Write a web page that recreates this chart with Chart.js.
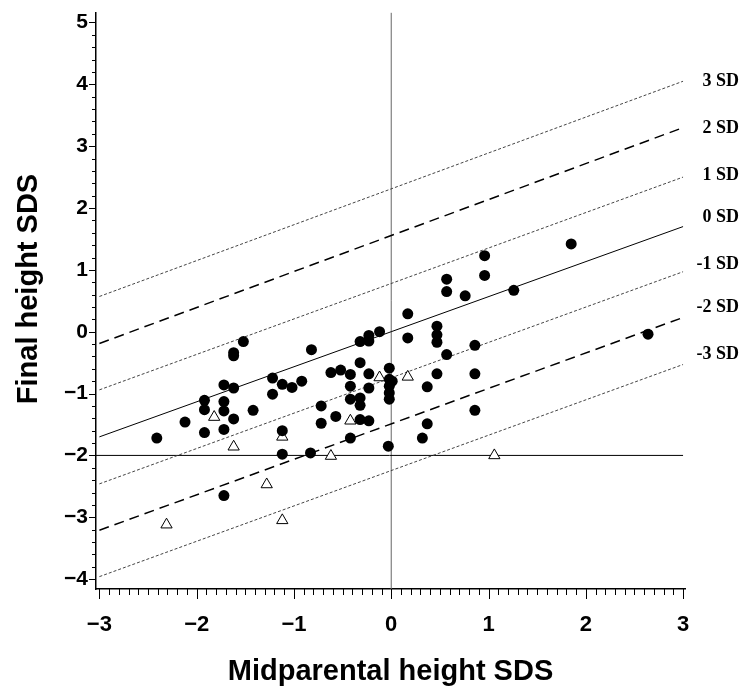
<!DOCTYPE html>
<html>
<head>
<meta charset="utf-8">
<script src="https://cdn.jsdelivr.net/npm/chart.js@4.4.1/dist/chart.umd.min.js"></script>
<style>
  html, body { margin: 0; padding: 0; background: #fff; }
  #wrap { width: 751px; height: 693px; position: relative; }
</style>
</head>
<body>
<div id="wrap"><canvas id="chart"></canvas></div>
<script>
// filled circles (x = midparental SDS, y = final height SDS)
const circleX = [-2.41, -2.12, -1.92, -1.92, -1.92, -1.72, -1.72, -1.72, -1.72, -1.72, -1.62, -1.62, -1.62, -1.62, -1.52,
  -1.42, -1.22, -1.22, -1.12, -1.12, -1.12, -1.02, -0.92, -0.83, -0.82, -0.72, -0.72, -0.62, -0.57, -0.52,
  -0.42, -0.42, -0.42, -0.42, -0.32, -0.32, -0.32, -0.32, -0.32, -0.23, -0.23, -0.23, -0.23, -0.23, -0.12,
  -0.02, -0.02, 0.01, -0.02, -0.02, -0.02, -0.03, 0.17, 0.17, 0.32, 0.37, 0.37, 0.47, 0.47, 0.47,
  0.47, 0.57, 0.57, 0.57, 0.76, 0.86, 0.86, 0.86, 0.96, 0.96, 1.26, 1.85, 2.64];
const circleY = [-1.72, -1.46, -1.11, -1.26, -1.63, -0.86, -1.13, -1.28, -1.58, -2.65, -0.34, -0.39, -0.91, -1.41, -0.16,
  -1.27, -0.75, -1.01, -0.85, -1.60, -1.98, -0.90, -0.80, -1.96, -0.29, -1.20, -1.48, -0.66, -1.37, -0.62,
  -0.69, -0.88, -1.09, -1.72, -0.16, -0.50, -1.07, -1.19, -1.42, -0.06, -0.15, -0.68, -0.91, -1.44, 0.00,
  -0.59, -0.77, -0.80, -0.88, -0.99, -1.09, -1.85, 0.29, -0.10, -1.72, -0.89, -1.49, 0.09, -0.05, -0.17,
  -0.68, 0.85, 0.65, -0.37, 0.58, -0.22, -0.68, -1.27, 1.23, 0.91, 0.67, 1.42, -0.04];

// open triangles
const triangleX = [-2.31, -1.82, -1.62, -1.28, -1.12, -1.12, -0.62, -0.42, -0.12, 0.17, 1.06];
const triangleY = [-3.12, -1.38, -1.86, -2.47, -1.70, -3.05, -2.01, -1.44, -0.74, -0.73, -2.00];

// reference SD lines, value at x = -3 and at x = 3
const sdNames = ["3 SD", "2 SD", "1 SD", "0 SD", "-1 SD", "-2 SD", "-3 SD"];
const sdStart = [0.57, -0.19, -0.94, -1.70, -2.46, -3.21, -3.96];
const sdEnd = [4.05, 3.30, 2.50, 1.70, 0.97, 0.23, -0.53];
const sdDash = [[3, 2], [10, 6], [3, 2], [], [3, 2], [10, 6], [3, 2]];
const sdLabelY = [4.05, 3.29, 2.53, 1.85, 1.09, 0.39, -0.36];

const xTicks = [-3, -2, -1, 0, 1, 2, 3];
const yTicks = [-4, -3, -2, -1, 0, 1, 2, 3, 4, 5];

function fmt(v) {
  return v < 0 ? "\u2212" + Math.abs(v) : String(v);
}

const datasets = [];

datasets.push({
  type: "scatter",
  data: circleX.map((x, i) => ({ x, y: circleY[i] })),
  pointStyle: "circle",
  pointRadius: 5.5,
  backgroundColor: "#000",
  borderColor: "#000",
  borderWidth: 0
});

datasets.push({
  type: "scatter",
  data: triangleX.map((x, i) => ({ x, y: triangleY[i] })),
  pointStyle: "triangle",
  pointRadius: 6.5,
  backgroundColor: "#fff",
  borderColor: "#000",
  borderWidth: 1
});

sdNames.forEach((name, i) => {
  const dashed = sdDash[i].length && sdDash[i][0] > 5;
  datasets.push({
    type: "line",
    data: [{ x: -3, y: sdStart[i] }, { x: 3, y: sdEnd[i] }],
    borderColor: sdDash[i].length && !dashed ? "#444" : "#000",
    borderWidth: dashed ? 1.5 : 1,
    borderDash: sdDash[i],
    pointRadius: 0,
    fill: false
  });
});

// horizontal line at -2 SDS
datasets.push({
  type: "line",
  data: [{ x: -3.035, y: -2 }, { x: 3, y: -2 }],
  borderColor: "#000",
  borderWidth: 1,
  pointRadius: 0
});

// vertical line at 0
datasets.push({
  type: "line",
  data: [{ x: 0, y: -4.16 }, { x: 0, y: 5.16 }],
  borderColor: "#666",
  borderWidth: 1,
  pointRadius: 0
});

const extras = {
  id: "extras",
  afterDraw(chart) {
    const ctx = chart.ctx;
    const xs = chart.scales.x;
    const ys = chart.scales.y;
    const axisY = ys.getPixelForValue(ys.min);
    const axisX = xs.getPixelForValue(xs.min);
    ctx.save();
    ctx.strokeStyle = "#000";
    ctx.lineWidth = 1;
    // x ticks every 0.1
    for (let i = -30; i <= 30; i++) {
      const px = Math.round(xs.getPixelForValue(i / 10)) + 0.5;
      const len = i % 10 === 0 ? 10 : 6;
      ctx.beginPath();
      ctx.moveTo(px, axisY);
      ctx.lineTo(px, axisY + len);
      ctx.stroke();
    }
    // y ticks every 0.2
    for (let i = -20; i <= 25; i++) {
      const py = Math.round(ys.getPixelForValue(i / 5)) + 0.5;
      const len = i % 5 === 0 ? 7 : 4;
      ctx.beginPath();
      ctx.moveTo(axisX, py);
      ctx.lineTo(axisX - len, py);
      ctx.stroke();
    }
    // SD labels
    ctx.fillStyle = "#000";
    ctx.font = "bold 18px 'Liberation Serif', 'DejaVu Serif', serif";
    ctx.textAlign = "right";
    ctx.textBaseline = "middle";
    sdNames.forEach((name, i) => {
      ctx.fillText(name, 739, ys.getPixelForValue(sdLabelY[i]));
    });
    // y axis title
    ctx.font = "bold 29px 'Liberation Sans', Arial, sans-serif";
    ctx.textAlign = "center";
    ctx.translate(29, 289);
    ctx.rotate(-Math.PI / 2);
    ctx.fillText("Final height SDS", 0, 0);
    ctx.restore();
  }
};

new Chart(document.getElementById("chart"), {
  data: { datasets },
  options: {
    responsive: true,
    maintainAspectRatio: false,
    animation: false,
    events: [],
    layout: { padding: { top: 4, right: 66, left: 0, bottom: 0 } },
    plugins: { legend: { display: false }, tooltip: { enabled: false } },
    scales: {
      x: {
        type: "linear",
        min: -3.035,
        max: 3.02,
        afterFit: (s) => { s.height = 104; },
        afterBuildTicks: (s) => { s.ticks = xTicks.map(v => ({ value: v })); },
        grid: { display: false },
        border: { display: true, color: "#000", width: 1.5 },
        ticks: {
          padding: 15,
          color: "#000",
          font: { family: "'Liberation Sans', Arial, sans-serif", size: 22, weight: "bold" },
          callback: (v) => fmt(v)
        },
        title: {
          display: true,
          text: "Midparental height SDS",
          color: "#000",
          padding: { top: 4, bottom: 4 },
          font: { family: "'Liberation Sans', Arial, sans-serif", size: 29, weight: "bold" }
        }
      },
      y: {
        type: "linear",
        min: -4.16,
        max: 5.16,
        afterFit: (s) => { s.width = 96; },
        afterBuildTicks: (s) => { s.ticks = yTicks.map(v => ({ value: v })); },
        grid: { display: false },
        border: { display: true, color: "#000", width: 1.5 },
        ticks: {
          padding: 0,
          color: "#000",
          font: { family: "'Liberation Sans', Arial, sans-serif", size: 21, weight: "bold" },
          callback: (v) => fmt(v)
        }
      }
    }
  },
  plugins: [extras]
});
</script>
</body>
</html>
